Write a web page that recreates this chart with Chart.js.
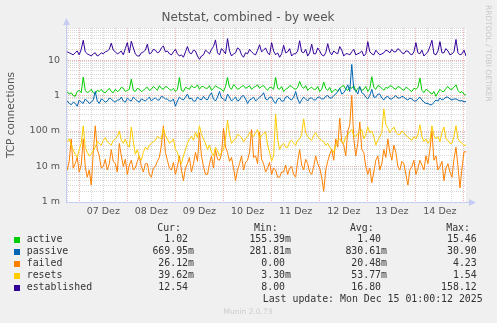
<!DOCTYPE html>
<html>
<head>
<meta charset="utf-8">
<script src="https://cdn.jsdelivr.net/npm/chart.js@4.4.1/dist/chart.umd.min.js"></script>
<style>
  html, body { margin: 0; padding: 0; background: #f0f0f0; }
</style>
</head>
<body>
<canvas id="netstat" width="497" height="323"></canvas>
<script>
// Netstat, combined - by week (hourly samples, hours relative to 07 Dez 00:00)
const startHour = -6;
const stepHours = 1;

const dayLabels = ['07 Dez', '08 Dez', '09 Dez', '10 Dez', '11 Dez', '12 Dez', '13 Dez', '14 Dez'];

const active = [
  1.3, 1.1, 1.2, 1.0, 0.95, 1.3, 1.4, 1.2, 3.3, 1.4,
  1.2, 1.3, 1.5, 1.2, 1.1, 1.4, 1.3, 1.5, 1.25, 1.2,
  1.4, 1.6, 1.3, 1.2, 1.5, 1.3, 1.4, 1.7, 1.6, 1.3,
  1.4, 1.5, 2.9, 1.4, 1.3, 1.6, 1.5, 1.3, 1.4, 1.6,
  1.7, 1.4, 1.5, 1.8, 1.6, 1.4, 1.9, 1.6, 1.5, 1.8,
  1.7, 1.5, 1.4, 1.6, 1.3, 1.5, 3.2, 1.4, 1.3, 1.7,
  1.6, 1.5, 1.9, 1.7, 1.7, 2.0, 1.5, 1.8, 1.8, 1.6,
  1.6, 1.9, 1.4, 1.6, 1.9, 1.7, 1.6, 1.5, 1.3, 1.8,
  3.2, 1.7, 1.5, 2.0, 1.8, 1.5, 1.6, 1.8, 1.9, 1.6,
  1.7, 1.9, 1.5, 1.7, 1.8, 2.0, 1.6, 1.8, 1.9, 1.6,
  1.4, 1.7, 1.7, 1.5, 3.2, 1.6, 1.5, 1.8, 1.3, 1.5,
  1.6, 1.9, 1.8, 1.6, 1.5, 1.7, 2.5, 1.8, 1.6, 1.9,
  1.4, 1.6, 1.7, 1.5, 1.5, 1.8, 1.3, 1.5, 2.4, 1.6,
  1.4, 1.7, 1.2, 1.4, 1.5, 1.3, 1.6, 1.8, 1.9, 1.5,
  1.4, 1.7, 1.6, 1.9, 1.3, 1.6, 1.7, 1.4, 1.5, 1.8,
  1.3, 1.6, 3.4, 1.7, 1.5, 1.9, 1.8, 1.6, 1.4, 1.7,
  1.6, 1.9, 1.8, 1.6, 1.5, 1.8, 1.7, 1.5, 1.4, 1.7,
  1.6, 1.4, 1.3, 1.6, 1.5, 1.7, 3.1, 1.4, 1.2, 1.5,
  1.4, 1.2, 1.1, 1.3, 0.95, 1.2, 1.5, 1.3, 1.3, 1.6,
  1.8, 1.5, 1.5, 1.7, 2.0, 1.4, 1.2, 1.3, 1.1, 1.02
];

const passive = [
  0.7, 0.6, 0.55, 0.65, 0.6, 0.5, 0.75, 0.65, 0.6, 0.8,
  0.7, 0.6, 0.65, 0.75, 1.3, 0.7, 0.6, 0.8, 0.75, 0.65,
  0.7, 0.85, 0.8, 0.7, 0.65, 0.75, 0.75, 0.9, 0.7, 0.65,
  0.85, 0.75, 0.7, 0.9, 0.8, 0.7, 0.65, 0.8, 0.75, 0.7,
  0.8, 0.9, 0.7, 0.8, 0.85, 0.75, 0.75, 0.95, 0.9, 0.8,
  0.8, 0.7, 0.7, 0.8, 0.5, 0.7, 0.9, 0.8, 0.75, 0.9,
  1.1, 0.8, 0.85, 0.7, 0.7, 0.9, 0.8, 0.75, 0.95, 0.8,
  0.75, 1.0, 1.2, 0.8, 0.7, 0.9, 1.3, 0.85, 0.8, 0.7,
  1.1, 0.9, 0.7, 0.8, 0.9, 0.7, 0.75, 0.95, 1.0, 0.8,
  0.6, 0.75, 0.8, 0.9, 0.7, 0.8, 0.9, 1.0, 1.2, 0.8,
  0.75, 0.9, 0.9, 0.7, 0.6, 0.8, 0.85, 0.7, 0.7, 0.9,
  0.95, 0.8, 0.75, 0.9, 1.3, 0.8, 0.6, 0.75, 0.9, 0.8,
  0.7, 0.85, 0.85, 0.75, 0.75, 0.9, 0.9, 0.8, 0.8, 0.95,
  1.0, 0.85, 0.85, 1.0, 1.1, 1.3, 1.6, 1.1, 1.2, 1.5,
  2.0, 1.3, 7.5, 1.5, 1.4, 1.1, 1.8, 1.2, 1.1, 0.9,
  0.8, 1.0, 1.5, 0.9, 0.9, 1.1, 1.1, 0.85, 0.75, 0.9,
  0.95, 0.8, 0.8, 0.9, 1.0, 0.85, 0.85, 0.95, 0.9, 0.8,
  0.75, 0.85, 0.8, 0.7, 0.7, 0.8, 0.9, 0.75, 0.65, 0.6,
  0.6, 0.55, 0.55, 0.65, 0.75, 0.7, 0.85, 0.75, 0.8, 0.9,
  0.9, 0.8, 0.75, 0.8, 0.8, 0.75, 0.7, 0.72, 0.67, 0.67
];

// failed and resets in milli-connections
const failedMilli = [
  8, 14, 60, 9, 12, 18, 7, 11, 60, 10,
  5, 8, 3, 25, 140, 30, 20, 9, 10, 16,
  8, 12, 30, 14, 12, 7, 45, 20, 10, 16,
  6, 11, 15, 8, 9, 14, 20, 10, 7, 12,
  12, 6, 5, 9, 10, 14, 18, 40, 140, 25,
  15, 9, 8, 13, 6, 10, 20, 8, 4, 9,
  12, 18, 7, 12, 25, 14, 90, 20, 10, 6,
  6, 12, 20, 9, 30, 16, 15, 22, 120, 35,
  25, 14, 18, 9, 4, 8, 12, 20, 8, 13,
  15, 25, 110, 18, 20, 12, 95, 16, 12, 7,
  9, 13, 6, 9, 8, 5, 5, 7, 7, 11,
  6, 9, 10, 6, 5, 14, 30, 11, 8, 16,
  12, 7, 6, 10, 20, 12, 9, 5, 2, 8,
  14, 22, 30, 15, 60, 35, 230, 50, 40, 20,
  100, 150, 1000, 60, 20, 45, 180, 30, 25, 10,
  6, 9, 3.5, 7, 15, 20, 8, 12, 30, 18,
  60, 25, 15, 40, 25, 10, 8, 14, 12, 6,
  3, 8, 10, 15, 6, 9, 15, 11, 8, 20,
  12, 30, 100, 15, 20, 8, 10, 14, 4, 9,
  12, 7, 5, 16, 35, 10, 2.5, 9, 26, 26
];

const resetsMilli = [
  50, 60, 40, 30, 22, 18, 30, 45, 140, 35,
  25, 20, 22, 28, 35, 50, 45, 40, 55, 65,
  50, 45, 40, 55, 60, 70, 100, 55, 45, 60,
  40, 35, 130, 50, 22, 30, 18, 15, 25, 35,
  30, 40, 45, 50, 55, 70, 65, 60, 120, 75,
  60, 45, 50, 60, 30, 25, 15, 12, 20, 30,
  45, 60, 70, 55, 90, 65, 140, 80, 60, 45,
  30, 40, 25, 20, 35, 28, 20, 25, 30, 60,
  200, 80, 45, 55, 60, 80, 75, 65, 50, 60,
  70, 90, 80, 70, 90, 110, 60, 75, 85, 95,
  40, 25, 14, 20, 300, 60, 30, 40, 45, 35,
  35, 50, 55, 45, 40, 55, 60, 80, 220, 90,
  70, 60, 55, 75, 90, 70, 60, 55, 50, 40,
  45, 35, 30, 25, 40, 55, 60, 50, 45, 70,
  80, 95, 110, 75, 70, 85, 90, 110, 60, 80,
  130, 90, 100, 70, 40, 55, 70, 90, 420, 150,
  120, 90, 110, 130, 95, 80, 80, 100, 90, 75,
  70, 60, 55, 70, 60, 80, 150, 70, 50, 60,
  45, 55, 140, 75, 60, 70, 50, 90, 130, 60,
  55, 45, 45, 70, 140, 60, 50, 45, 40, 40
];

const established = [
  17, 16, 15, 14, 16, 18, 14, 20, 36, 17,
  15, 14, 13, 15, 16, 13, 14, 16, 15, 17,
  18, 20, 30, 19, 17, 15, 16, 18, 14, 21,
  31, 16, 34, 22, 15, 13, 13, 16, 17, 19,
  28, 15, 16, 20, 19, 16, 17, 22, 25, 17,
  18, 15, 14, 17, 20, 15, 13, 14, 12, 17,
  24, 16, 15, 19, 18, 13, 10.5, 13, 14, 19,
  17, 15, 20, 24, 37, 16, 14, 21, 18, 15,
  40, 18, 13, 15, 16, 22, 20, 14, 12, 16,
  15, 20, 17, 15, 14, 19, 27, 17, 19, 22,
  16, 14, 31, 18, 14, 16, 12, 15, 26, 16,
  17, 21, 13, 15, 15, 18, 35, 17, 16, 20,
  13, 16, 28, 15, 15, 22, 18, 14, 13, 16,
  29, 17, 14, 18, 16, 15, 24, 19, 13, 15,
  15, 14, 17, 20, 14, 15, 16, 18, 13, 15,
  33, 17, 15, 14, 19, 16, 14, 15, 16, 19,
  18, 16, 20, 17, 17, 21, 19, 16, 15, 18,
  18, 15, 14, 17, 31, 16, 15, 19, 13, 15,
  17, 24, 36, 15, 14, 18, 33, 16, 16, 21,
  18, 14, 15, 17, 38, 16, 14, 15, 19, 13
];

// legend table
const seriesNames = ['active', 'passive', 'failed', 'resets', 'established'];
const seriesColors = ['#00CC00', '#0066B3', '#FF8000', '#FFCC00', '#330099'];
const curValues = ['1.02 ', '669.95m', '26.12m', '39.62m', '12.54 '];
const minValues = ['155.39m', '281.81m', '0.00 ', '3.30m', '8.00 '];
const avgValues = ['1.40 ', '830.61m', '20.48m', '53.77m', '16.80 '];
const maxValues = ['15.46 ', '30.90 ', '4.23 ', '1.54 ', '158.12 '];

const hours = active.map((_, i) => startHour + i * stepHours);
const toPoints = arr => arr.map((v, i) => ({ x: hours[i], y: v }));
const fromMilli = arr => arr.map(v => v / 1000);

const seriesData = [active, passive, fromMilli(failedMilli), fromMilli(resetsMilli), established];
const datasets = seriesData.map((arr, i) => ({
  label: seriesNames[i],
  data: toPoints(arr),
  borderColor: seriesColors[i],
  borderWidth: 1,
  pointRadius: 0,
  tension: 0,
  order: seriesData.length - 1 - i
}));

const RED_GRID = 'rgba(235, 130, 130, 0.6)';
const GREY_GRID = 'rgba(205, 205, 205, 0.8)';
const AXIS = '#c4ccf2';
const TXT = '#555555';

const munin = {
  id: 'munin',
  beforeDraw(chart) {
    const { ctx, chartArea: a } = chart;
    ctx.save();
    ctx.fillStyle = '#f0f0f0';
    ctx.fillRect(0, 0, chart.width, chart.height);
    ctx.fillStyle = '#ffffff';
    ctx.fillRect(a.left, a.top, a.right - a.left, a.bottom - a.top);
    ctx.restore();
  },
  afterDraw(chart) {
    const { ctx, chartArea: a } = chart;
    ctx.save();

    // axes with arrow heads
    ctx.strokeStyle = AXIS;
    ctx.fillStyle = AXIS;
    ctx.lineWidth = 1;
    ctx.beginPath();
    ctx.moveTo(a.left + 0.5, a.bottom + 0.5);
    ctx.lineTo(a.left + 0.5, a.top - 6);
    ctx.moveTo(a.left, a.bottom + 0.5);
    ctx.lineTo(a.right + 6, a.bottom + 0.5);
    ctx.stroke();
    ctx.beginPath();
    ctx.moveTo(a.left + 0.5, a.top - 10);
    ctx.lineTo(a.left - 3, a.top - 3);
    ctx.lineTo(a.left + 4, a.top - 3);
    ctx.closePath();
    ctx.fill();
    ctx.beginPath();
    ctx.moveTo(a.right + 10, a.bottom + 0.5);
    ctx.lineTo(a.right + 3, a.bottom - 3);
    ctx.lineTo(a.right + 3, a.bottom + 4);
    ctx.closePath();
    ctx.fill();

    // title
    ctx.fillStyle = TXT;
    ctx.font = '12px "DejaVu Sans"';
    ctx.textAlign = 'center';
    ctx.textBaseline = 'middle';
    ctx.fillText('Netstat, combined - by week', 248, 18);

    // vertical axis title
    ctx.save();
    ctx.translate(11, 115);
    ctx.rotate(-Math.PI / 2);
    ctx.font = '10.5px "DejaVu Sans"';
    ctx.fillText('TCP connections', 0, 0);
    ctx.restore();

    // rrdtool credit
    ctx.save();
    ctx.translate(488, 5);
    ctx.rotate(Math.PI / 2);
    ctx.fillStyle = '#c8c8c8';
    ctx.font = '7.5px "DejaVu Sans"';
    ctx.textAlign = 'left';
    ctx.fillText('RRDTOOL / TOBI OETIKER', 0, 0);
    ctx.restore();

    // legend table
    ctx.font = '9.9px "DejaVu Sans Mono"';
    ctx.fillStyle = '#333333';
    ctx.textAlign = 'right';
    const heads = [['Cur:', 181], ['Min:', 277.7], ['Avg:', 373.7], ['Max:', 470]];
    heads.forEach(([t, x]) => ctx.fillText(t, x, 228));
    const cols = [[curValues, 194], [minValues, 291], [avgValues, 387], [maxValues, 482.7]];
    seriesNames.forEach((name, i) => {
      const y = 239.7 + i * 12;
      ctx.fillStyle = seriesColors[i];
      ctx.fillRect(14, Math.round(y) - 3, 6, 6);
      ctx.fillStyle = '#333333';
      ctx.textAlign = 'left';
      ctx.fillText(name, 26.7, y);
      ctx.textAlign = 'right';
      cols.forEach(([vals, x]) => ctx.fillText(vals[i], x, y));
    });
    ctx.fillText('Last update: Mon Dec 15 01:00:12 2025', 482.7, 299.5);

    ctx.fillStyle = '#cccccc';
    ctx.textAlign = 'center';
    ctx.font = '7.5px "DejaVu Sans"';
    ctx.fillText('Munin 2.0.73', 248, 311.7);
    ctx.restore();
  }
};

const decadeLabel = v => {
  const e = Math.log10(v);
  if (Math.abs(e - Math.round(e)) > 1e-6) return '';
  return { '-3': '1 m', '-2': '10 m', '-1': '100 m', '0': '1', '1': '10' }[Math.round(e)] || '';
};

new Chart(document.getElementById('netstat').getContext('2d'), {
  type: 'line',
  data: { datasets },
  plugins: [munin],
  options: {
    responsive: false,
    animation: false,
    layout: { padding: { left: 0, right: 31, top: 28, bottom: 101 } },
    plugins: { legend: { display: false }, title: { display: false }, tooltip: { enabled: false } },
    scales: {
      x: {
        type: 'linear',
        min: -6.6,
        max: 193,
        afterBuildTicks(scale) {
          const t = [];
          for (let h = -6; h <= 192; h += 6) t.push({ value: h });
          scale.ticks = t;
        },
        afterFit(scale) { scale.height = 20; },
        ticks: {
          autoSkip: false,
          maxRotation: 0,
          padding: 4,
          color: TXT,
          font: { family: 'DejaVu Sans', size: 9.5 },
          callback: v => (((v % 24) + 24) % 24 === 12 ? dayLabels[(v - 12) / 24] || '' : '')
        },
        grid: {
          drawTicks: false,
          color: c => (((c.tick.value % 24) + 24) % 24 === 0 ? RED_GRID : GREY_GRID)
        },
        border: { display: false, dash: [1, 1] }
      },
      y: {
        type: 'logarithmic',
        min: 0.001,
        max: 80,
        afterBuildTicks(scale) {
          const t = [];
          for (let e = -3; e <= 1; e++) {
            for (let m = 1; m <= 9; m++) {
              const v = m * Math.pow(10, e);
              if (v <= 80) t.push({ value: v });
            }
          }
          scale.ticks = t;
        },
        afterFit(scale) { scale.width = 66; },
        ticks: {
          autoSkip: false,
          padding: 6,
          color: TXT,
          font: { family: 'DejaVu Sans', size: 9.5 },
          callback: v => decadeLabel(v)
        },
        grid: {
          drawTicks: false,
          color: c => (decadeLabel(c.tick.value) ? RED_GRID : GREY_GRID)
        },
        border: { display: false, dash: [1, 1] }
      }
    }
  }
});
</script>
</body>
</html>
